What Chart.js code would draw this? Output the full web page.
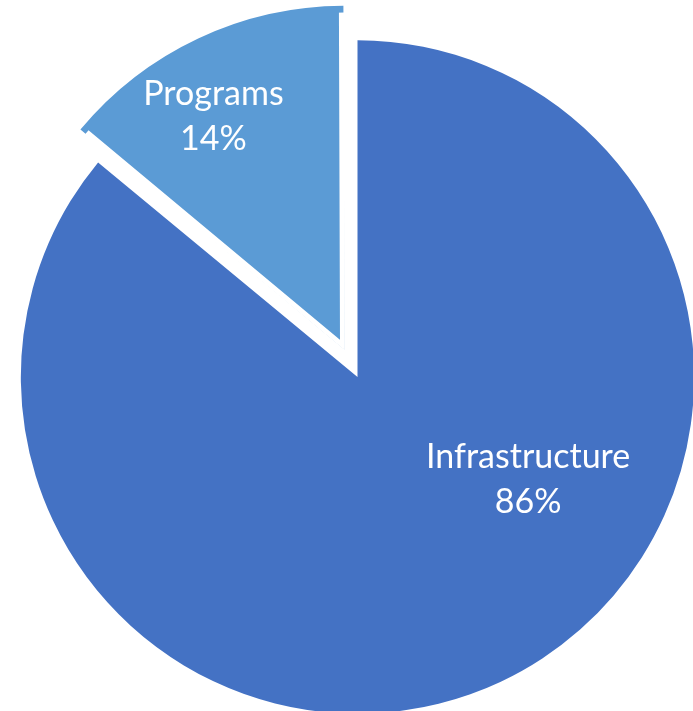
<!DOCTYPE html>
<html>
<head>
<meta charset="utf-8">
<script src="https://cdn.jsdelivr.net/npm/chart.js@4/dist/chart.umd.min.js"></script>
<style>
  html, body { margin: 0; padding: 0; background: #ffffff; }
  #wrap { width: 693px; height: 711px; position: relative; }
</style>
</head>
<body>
<div id="wrap"><canvas id="c" width="693" height="711"></canvas></div>
<script>
const categories = ["Infrastructure", "Programs"];
const shares = [86, 14];
const percentLabels = ["86%", "14%"];

const sliceColors = ["#4472C4", "#5B9BD5"];
// Chart.js translates an arc by offset/4
const explode = [0, 122];
const sliceBorder = [0, 4.5];
const labelAnchors = [
  { angleDeg: 123.6, frac: 0.608 },   // angle clockwise from top, fraction of radius from pie centre
  { angleDeg: -30.0, frac: 0.855 }
];

const labelPlugin = {
  id: 'sliceLabels',
  afterDatasetsDraw(chart) {
    const ctx = chart.ctx;
    const meta = chart.getDatasetMeta(0);
    ctx.save();
    ctx.fillStyle = '#ffffff';
    ctx.font = '34px Lato, "Open Sans", sans-serif';
    ctx.textAlign = 'center';
    ctx.textBaseline = 'alphabetic';
    meta.data.forEach((arc, i) => {
      const p = arc.getProps(['x', 'y', 'outerRadius'], true);
      const a = (labelAnchors[i].angleDeg - 90) * Math.PI / 180;
      const r = p.outerRadius * labelAnchors[i].frac;
      const lx = p.x + Math.cos(a) * r;
      const ly = p.y + Math.sin(a) * r;
      ctx.fillText(categories[i], lx, ly - 22.5);
      ctx.fillText(percentLabels[i], lx, ly + 22.5);
    });
    ctx.restore();
  }
};

new Chart(document.getElementById('c'), {
  type: 'pie',
  data: {
    labels: categories,
    datasets: [{
      data: shares,
      backgroundColor: sliceColors,
      borderColor: '#ffffff',
      borderWidth: ctx => sliceBorder[ctx.dataIndex],
      borderAlign: 'inner',
      offset: ctx => explode[ctx.dataIndex],
      clip: false
    }]
  },
  options: {
    responsive: false,
    animation: false,
    events: [],
    radius: 337,
    layout: { padding: { left: 22, right: 0, top: 43, bottom: 0 } },
    plugins: {
      legend: { display: false },
      tooltip: { enabled: false }
    }
  },
  plugins: [labelPlugin]
});
</script>
</body>
</html>
